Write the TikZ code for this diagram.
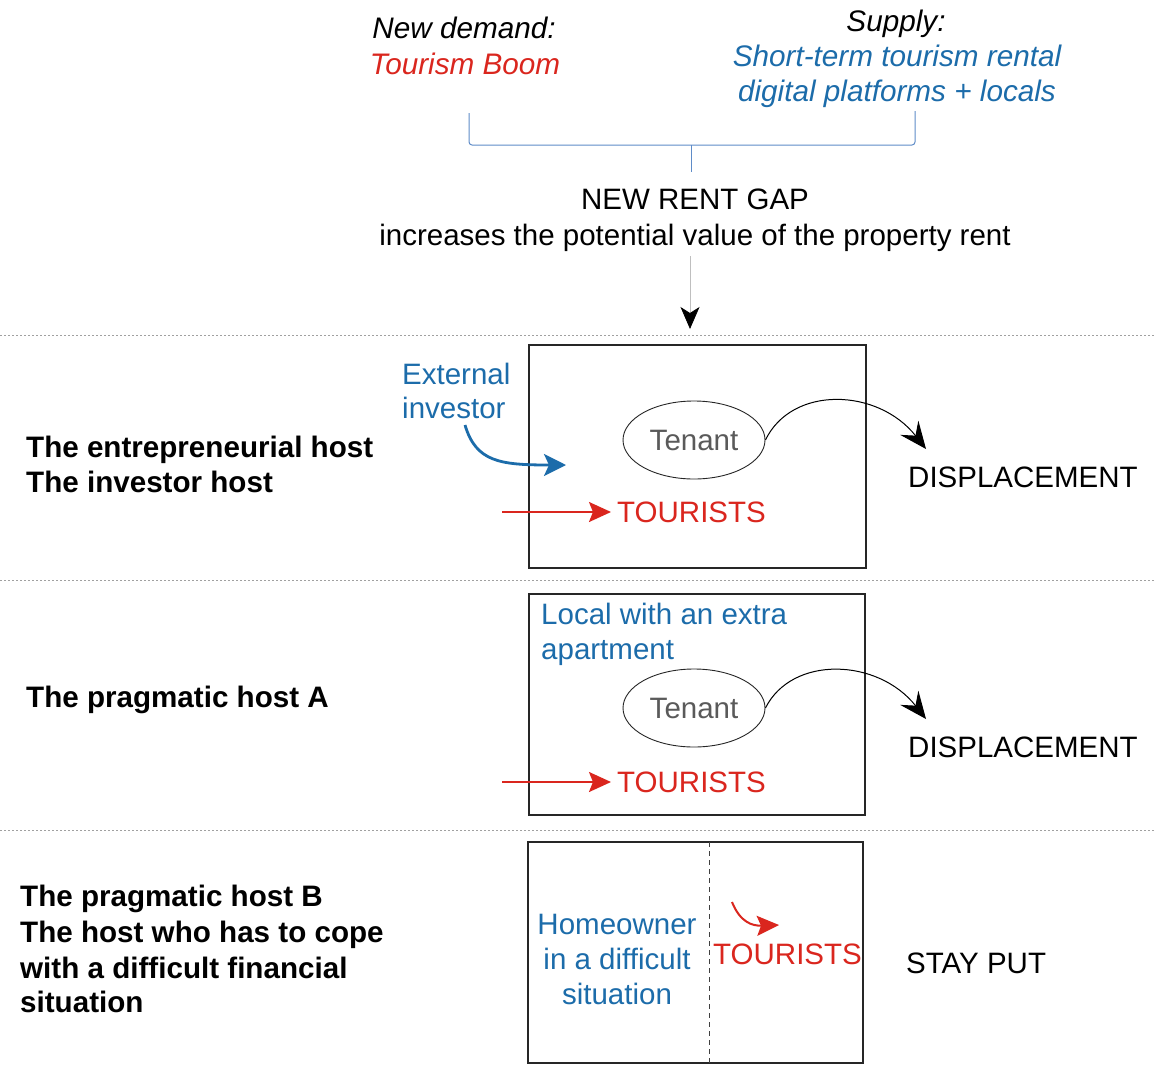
\documentclass[tikz,border=0pt]{standalone}
\usepackage{fontspec}
\setmainfont{Liberation Sans}
\usetikzlibrary{arrows.meta,shapes.geometric}
\definecolor{tblue}{RGB}{28,108,170}
\definecolor{tred}{RGB}{218,38,30}
\definecolor{tgray}{RGB}{90,90,90}
\definecolor{braceblue}{RGB}{95,140,200}
\definecolor{sepgray}{RGB}{160,160,160}
\begin{document}
\begin{tikzpicture}[x=1pt,y=-1pt,
  txt/.style={font=\fontsize{29.5}{35}\selectfont, inner sep=0pt, anchor=base west},
  ctxt/.style={txt, anchor=base},
  itxt/.style={ctxt, font=\fontsize{29.7}{35}\selectfont\itshape},
  btxt/.style={txt, font=\fontsize{29.6}{35}\selectfont\bfseries},
  house/.style={draw=black!85, line width=2.4pt},
  tenant/.style={ellipse, draw=black!85, line width=0.9pt, inner sep=0pt,
    minimum width=142pt, minimum height=78pt, text=tgray,
    font=\fontsize{29.5}{35}\selectfont},
  sep/.style={draw=sepgray, line width=0.8pt, dash pattern=on 2pt off 2pt},
  moveout/.style={draw=black, line width=1pt,
    -{Stealth[length=27pt,width=23pt,inset=10pt]}},
  redarrow/.style={draw=tred, line width=2pt,
    -{Stealth[length=22pt,width=20pt,inset=4pt]}},
  bluearrow/.style={draw=tblue, line width=2.8pt,
    -{Stealth[length=22pt,width=22pt,inset=5pt]}}
]
\useasboundingbox (0,0) rectangle (1156,1068);
\fill[white] (0,0) rectangle (1156,1068);

% top texts
\node[itxt] (nd) at (464,38) {New demand:};
\node[itxt, text=tred] (tb) at (465,74) {Tourism Boom};
\node[itxt] (sup) at (896,31) {Supply:};
\node[itxt, text=tblue] (st1) at (897,66) {Short-term tourism rental};
\node[itxt, text=tblue] (st2) at (897,101) {digital platforms + locals};

% brace
\coordinate (bl) at (469,113);
\coordinate (br) at (915,111);
\coordinate (btip) at (691,172);
\draw[braceblue, line width=1pt, rounded corners=3pt]
  (bl) -- (469,145) -- (915,145) -- (br);
\draw[braceblue, line width=1pt] (691,145) -- (btip);

% rent gap
\node[ctxt] (gap) at (695,209) {NEW RENT GAP};
\node[ctxt] (gap2) at (695,245) {increases the potential value of the property rent};
\coordinate (gapfoot) at (690,256);
\coordinate (arrtip) at (690,329);
\draw[black!25, line width=0.8pt, -{Stealth[length=22pt,width=19pt,inset=6pt,color=black,fill=black]}] (gapfoot) -- (arrtip);

% separators
\coordinate (s1l) at (0,335);  \coordinate (s1r) at (1156,335);
\coordinate (s2l) at (0,580);  \coordinate (s2r) at (1156,580);
\coordinate (s3l) at (0,830);  \coordinate (s3r) at (1156,830);
\draw[sep] (s1l) -- (s1r);
\draw[sep] (s2l) -- (s2r);
\draw[sep] (s3l) -- (s3r);

% ---------- row 1
\node[btxt] (r1a) at (26,457) {The entrepreneurial host};
\node[btxt] (r1b) at (26,492) {The investor host};
\draw[house] (529,345) rectangle (866,568);
\node[txt, text=tblue] (ext1) at (402,384) {External};
\node[txt, text=tblue] (ext2) at (402,418) {investor};
\coordinate (extfoot) at (465,425);
\coordinate (extend) at (566,465);
\draw[bluearrow] (extfoot) .. controls (476,462) and (500,465) .. (extend);
\node[tenant] (ten1) at (694,440) {Tenant};
\coordinate (d1) at (926,449);
\draw[moveout] (ten1.east) .. controls (792,385) and (878,388) .. (d1);
\node[txt] (disp1) at (908,487) {DISPLACEMENT};
\node[txt, text=tred] (tour1) at (617,522) {TOURISTS};
\coordinate (tin1) at (502,512);
\draw[redarrow, shorten >=6pt] (tin1) -- (tour1.west |- tin1);

% ---------- row 2
\node[btxt] (r2a) at (26,707) {The pragmatic host A};
\draw[house] (529,594) rectangle (865,815);
\node[txt, text=tblue] (loc1) at (541,624) {Local with an extra};
\node[txt, text=tblue] (loc2) at (541,659) {apartment};
\node[tenant] (ten2) at (694,708) {Tenant};
\coordinate (d2) at (926,719);
\draw[moveout] (ten2.east) .. controls (792,655) and (878,658) .. (d2);
\node[txt] (disp2) at (908,757) {DISPLACEMENT};
\node[txt, text=tred] (tour2) at (617,792) {TOURISTS};
\coordinate (tin2) at (502,782);
\draw[redarrow, shorten >=6pt] (tin2) -- (tour2.west |- tin2);

% ---------- row 3
\node[btxt] (r3a) at (20,906) {The pragmatic host B};
\node[btxt] (r3b) at (20,942) {The host who has to cope};
\node[btxt] (r3c) at (20,978) {with a difficult financial};
\node[btxt] (r3d) at (20,1012) {situation};
\draw[house] (528,842) rectangle (863,1063);
\coordinate (dtop) at (709,842);
\coordinate (dbot) at (709,1063);
\draw[black!75, line width=1pt, dash pattern=on 5pt off 4pt] (dtop) -- (dbot);
\node[ctxt, text=tblue] (ho1) at (617,934) {Homeowner};
\node[ctxt, text=tblue] (ho2) at (617,969) {in a difficult};
\node[ctxt, text=tblue] (ho3) at (617,1004) {situation};
\node[txt, text=tred] (tour3) at (713,964) {TOURISTS};
\coordinate (t3a) at (732,902);
\coordinate (t3b) at (779,925);
\draw[redarrow] (t3a) .. controls (740,922) and (752,926) .. (t3b);
\node[txt] (stay) at (906,973) {STAY PUT};
\end{tikzpicture}
\end{document}
